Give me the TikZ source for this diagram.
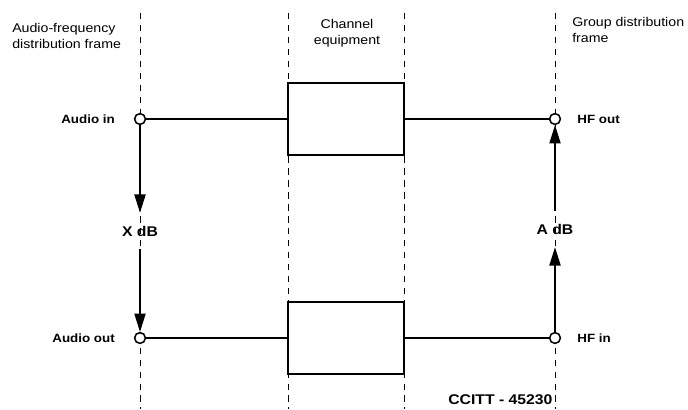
\documentclass[tikz,border=0pt]{standalone}
\usepackage{fontspec}
\setmainfont[FakeStretch=1.12]{Liberation Sans}
\usepackage{tikz}
\usetikzlibrary{arrows.meta,positioning}
\tikzset{
  % Frame boundary
  frame/.style={dash pattern=on 4.5pt off 4pt,line width=0.6pt},
  % Channel equipment box
  chbox/.style={rectangle,draw,line width=2pt,fill=white,
                minimum width=2.9cm,minimum height=1.8cm},
  % Terminal point
  term/.style={circle,draw,fill=white,line width=1.1pt,
               inner sep=0pt,minimum size=0.27cm},
  % Connections
  wire/.style={line width=0.9pt},
  sig/.style={line width=0.9pt,-{Triangle[length=13pt,width=8pt]}},
  % Label styles
  hdr/.style={font=\fontsize{9}{11}\selectfont,inner sep=0pt},
  io/.style={font=\fontsize{8.5}{10}\selectfont\bfseries},
  lvl/.style={font=\fontsize{10}{12}\selectfont\bfseries,
              minimum height=0.9cm,inner sep=0pt}
}
\begin{document}
\begin{tikzpicture}[x=0.025cm,y=-0.025cm]
  \useasboundingbox (0,0) rectangle (688,409);

  \foreach \x in {140,288,404,555}
    \draw[frame] (\x,13) -- (\x,409);

  \node[hdr,anchor=west,align=left] (afdf) at (12,36) {Audio-frequency\\distribution frame};
  \node[hdr,align=center] (cheq) at (347,33) {Channel\\equipment};
  \node[hdr,anchor=west,align=left] (gdf) at (572,30) {Group distribution\\frame};

  \node[chbox] (chtop) at (346,119) {};
  \node[chbox] (chbot) at (346,338) {};

  \node[term] (ain) at (140,119) {};
  \node[term] (aout) at (140,338) {};
  \node[term] (hfout) at (555,119) {};
  \node[term] (hfin) at (555,338) {};

  \node[io,left=10pt of ain] (ainl) {Audio in};
  \node[io,left=10pt of aout] (aoutl) {Audio out};
  \node[io,right=8pt of hfout] (hfoutl) {HF out};
  \node[io,right=8pt of hfin] (hfinl) {HF in};

  \node[lvl] (xdb) at (140,231) {X dB};
  \node[lvl] (adb) at (555,229) {A dB};

  \node[font=\fontsize{10}{12}\selectfont\bfseries,anchor=north west,inner sep=0pt]
    (ref) at (448,394) {CCITT - 45230};

  \draw[wire](ain)--(chtop);
  \draw[wire](chtop)--(hfout);
  \draw[wire](aout)--(chbot);
  \draw[wire](chbot)--(hfin);
  \draw[sig](ain)--(xdb);
  \draw[sig](xdb)--(aout);
  \draw[sig](hfin)--(adb);
  \draw[sig](adb)--(hfout);
\end{tikzpicture}
\end{document}
